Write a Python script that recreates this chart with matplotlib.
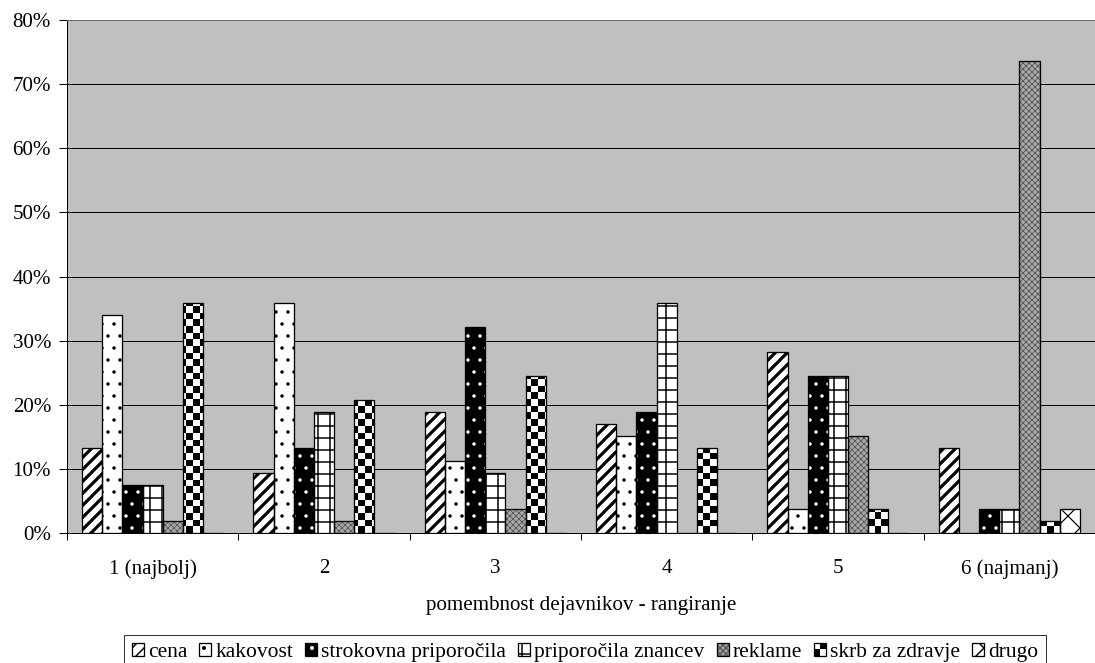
import matplotlib
matplotlib.use('Agg')
import matplotlib.pyplot as plt
from matplotlib.patches import Rectangle
from matplotlib.legend_handler import HandlerBase
import numpy as np

# data (percent of respondents)
categories = ['1 (najbolj)', '2', '3', '4', '5', '6 (najmanj)']
series_names = ['cena', 'kakovost', 'strokovna priporočila', 'priporočila znancev',
                'reklame', 'skrb za zdravje', 'drugo']
cena = [13.2, 9.4, 18.9, 17.0, 28.3, 13.2]
kakovost = [34.0, 35.8, 11.3, 15.1, 3.8, 0.0]
strokovna = [7.5, 13.2, 32.1, 18.9, 24.5, 3.8]
znancev = [7.5, 18.9, 9.4, 35.8, 24.5, 3.8]
reklame = [1.9, 1.9, 3.8, 0.0, 15.1, 73.6]
skrb = [35.8, 20.8, 24.5, 13.2, 3.8, 1.9]
drugo = [0.0, 0.0, 0.0, 0.0, 0.0, 3.8]
series = [cena, kakovost, strokovna, znancev, reklame, skrb, drugo]

# fill style per series: (facecolor, hatch colour, hatch, hatch linewidth)
styles = [
    ('white', 'black', '//', 3.2),
    ('white', 'black', '.', 1.0),
    ('black', 'white', '.', 1.0),
    ('white', 'black', '+', 1.5),
    ('#a8a8a8', '#585858', 'xxxx', 0.8),
    ('white', 'black', '', 1.0),      # checkerboard drawn separately
    ('white', 'black', 'x', 1.2),
]

plt.rcParams['font.family'] = ['Liberation Serif', 'DejaVu Serif']
plt.rcParams['font.size'] = 21
plt.rcParams['hatch.linewidth'] = 1.5


class HandlerChecker(HandlerBase):
    # small 2x2 checkerboard swatch for the legend
    def create_artists(self, legend, orig_handle, xdescent, ydescent,
                       width, height, fontsize, trans):
        arts = []
        for i in range(2):
            for k in range(2):
                col = 'black' if (i + k) % 2 == 0 else 'white'
                arts.append(Rectangle((-xdescent + i * width / 2, -ydescent + k * height / 2),
                                      width / 2, height / 2, facecolor=col,
                                      edgecolor='none', transform=trans))
        arts.append(Rectangle((-xdescent, -ydescent), width, height, fill=False,
                              edgecolor='black', linewidth=1.3, transform=trans))
        return arts


DPI = 72
fig = plt.figure(figsize=(1095 / DPI, 663 / DPI), dpi=DPI)
ax = fig.add_axes([67 / 1095, 130 / 663, 1028 / 1095, 513 / 663])
ax.set_facecolor('#c0c0c0')

n = len(series)
w = 1 / (n + 1.5)
x = np.arange(len(categories))

outlines = []
legend_handles = []
for j, (vals, (fc, hc, hatch, hlw)) in enumerate(zip(series, styles)):
    xs = x + 0.75 * w + j * w
    with plt.rc_context({'hatch.linewidth': hlw}):
        fill = ax.bar(xs, vals, width=w, align='edge', color=fc, edgecolor=hc,
                      linewidth=0, hatch=hatch, zorder=2)
    edge = ax.bar(xs, vals, width=w, align='edge', fill=False,
                  edgecolor='black', linewidth=1.3, zorder=4)
    outlines.append(edge)
    legend_handles.append((fill[0], edge[0]))

ax.set_xlim(0, 1028 / 172.8)
ax.set_ylim(0, 80)

# checkerboard for "skrb za zdravje"
ny, nx = 77, 154
checker = np.indices((ny, nx)).sum(axis=0) % 2
x0, x1 = ax.get_xlim()
for rect in outlines[5]:
    im = ax.imshow(checker, cmap='gray', extent=(x0, x1, 0, 80), aspect='auto',
                   interpolation='nearest', zorder=3)
    im.set_clip_path(rect)
ax.set_xlim(x0, x1)
ax.set_ylim(0, 80)

skrb_proxy = Rectangle((0, 0), 1, 1)
legend_handles[5] = skrb_proxy

ax.yaxis.grid(True, color='black', linewidth=1)
ax.set_axisbelow(True)
ax.set_yticks(np.arange(0, 81, 10))
ax.set_yticklabels([f'{v}%' for v in range(0, 81, 10)])
ax.tick_params(axis='y', direction='out', length=8, width=1, pad=8)

ax.set_xticks(x + 0.5)
ax.set_xticklabels(categories)
ax.set_xticks(np.arange(0, 7), minor=True)
ax.tick_params(axis='x', which='major', length=0, pad=26)
ax.tick_params(axis='x', which='minor', direction='out', length=7, width=1)
ax.set_xlabel('pomembnost dejavnikov - rangiranje', labelpad=17)

for s in ['left', 'bottom']:
    ax.spines[s].set_color('black')
    ax.spines[s].set_linewidth(1)
ax.spines['top'].set_color('#808080')
ax.spines['right'].set_color('#808080')

leg = fig.legend(legend_handles, series_names, loc='upper left',
                 bbox_to_anchor=(124 / 1095, 1 - 635 / 663), ncol=7,
                 prop={'family': ['Liberation Serif'], 'size': 21.5},
                 handler_map={skrb_proxy: HandlerChecker()},
                 frameon=True, fancybox=False, edgecolor='black',
                 handlelength=0.56, handleheight=0.56, handletextpad=0.2,
                 columnspacing=0.55, borderpad=0.35, borderaxespad=0)
leg.get_frame().set_linewidth(1)

fig.savefig('out.png', dpi=DPI, facecolor='white')
